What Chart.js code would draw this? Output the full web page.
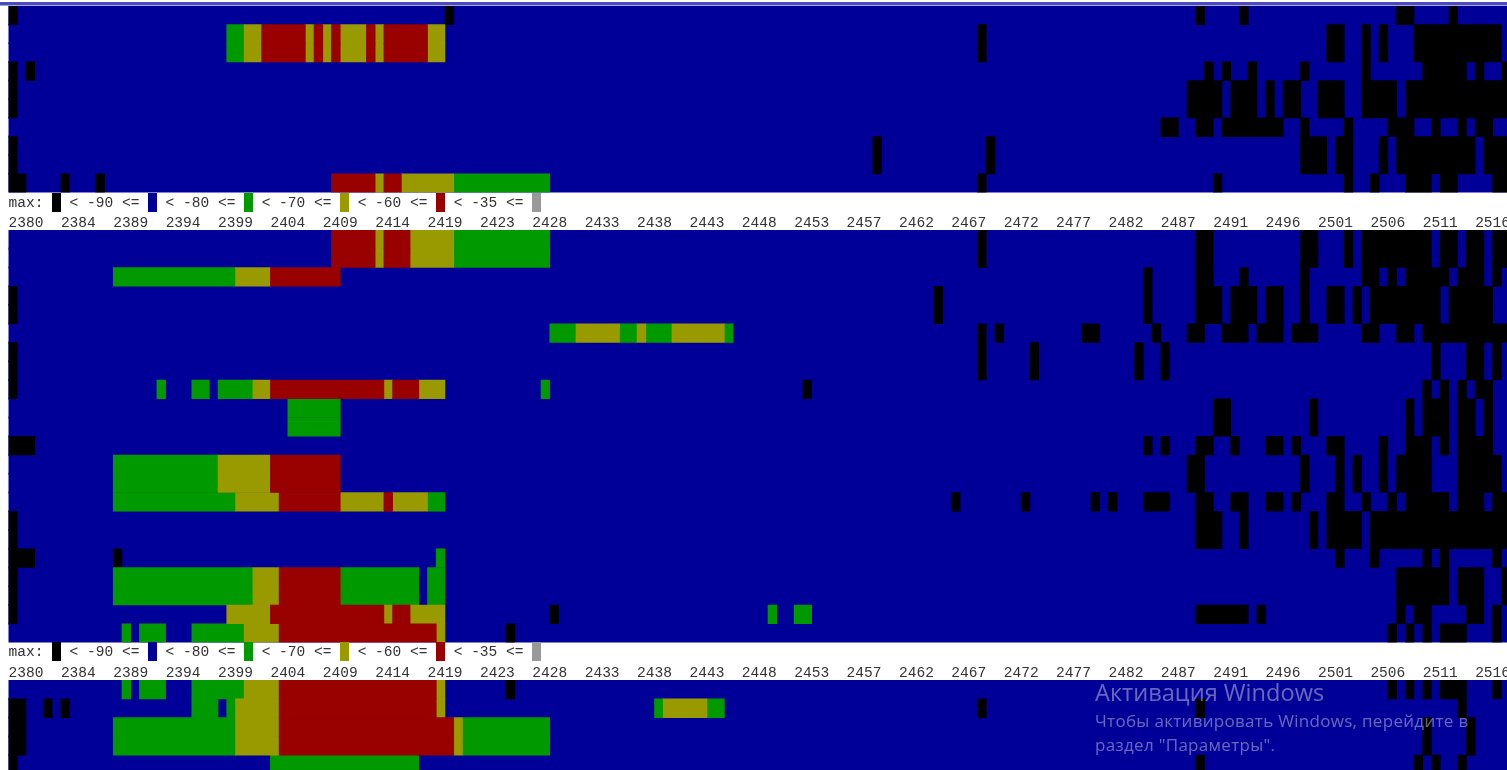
<!DOCTYPE html>
<html>
<head>
<meta charset="utf-8">
<title>Spectrum</title>
<script src="https://cdn.jsdelivr.net/npm/chart.js@4"></script>
<style>
  html, body { margin: 0; padding: 0; background: #fff; overflow: hidden; width: 1507px; height: 770px; }
  canvas { position: absolute; left: 0; }
  .strip { position: absolute; left: 0; width: 1507px; }
  .legend { position: absolute; left: 8.5px; height: 19px; line-height: 21px; white-space: pre;
            font-family: "Liberation Mono", monospace; font-size: 14.55px; color: #333; }
  .legend span { display: inline-block; width: 8.73px; height: 19px; vertical-align: top; }
  .mark { position: absolute; left: 1095px; color: rgba(205, 205, 225, .5); font-family: "Open Sans", sans-serif; white-space: pre; }
</style>
</head>
<body>
<div class="strip" style="top:2px;height:3px;background:#4a4ac4"></div>
<div class="strip" style="top:5px;height:1px;background:#a6a6d8"></div>
<canvas id="top" width="1507" height="230" style="top:0"></canvas>
<div class="legend" id="legendTop" style="top:193px"></div>
<canvas id="mid" width="1507" height="450" style="top:230px"></canvas>
<div class="legend" id="legendMid" style="top:642px"></div>
<canvas id="low" width="1507" height="94" style="top:680px"></canvas>
<div class="mark" style="top:676px;font-size:23.6px">Активация Windows</div>
<div class="mark" style="top:709px;font-size:17px;letter-spacing:.3px">Чтобы активировать Windows, перейдите в</div>
<div class="mark" style="top:733px;font-size:17px;letter-spacing:.3px">раздел "Параметры".</div>

<script>
// frequency labels, one every 6 cells
const tickLabels = [2380, 2384, 2389, 2394, 2399, 2404, 2409, 2414, 2419, 2423, 2428, 2433, 2438, 2443, 2448,
  2453, 2457, 2462, 2467, 2472, 2477, 2482, 2487, 2491, 2496, 2501, 2506, 2511, 2516];
const thresholds = [-90, -80, -70, -60, -35];
const levelColors = ["#000000", "#000099", "#009900", "#999900", "#990000", "#999999"];

// each list is indexed by row, each row holds [fromCell, toCell] runs
const topBlack = [
  [[0,1],[50,51],[136,137],[141,142],[159,161],[165,166]],
  [[111,112],[151,153],[155,156],[157,158],[161,171]],
  [[111,112],[151,153],[155,156],[157,158],[161,171]],
  [[0,1],[2,3],[137,138],[139,140],[142,143],[148,149],[155,156],[162,167],[168,169],[171,172]],
  [[0,1],[135,139],[140,143],[144,145],[146,148],[150,153],[155,159],[160,172]],
  [[0,1],[135,139],[140,143],[144,145],[146,148],[150,153],[155,159],[160,172]],
  [[132,134],[136,138],[139,146],[148,149],[153,154],[158,161],[163,164],[166,167],[168,170]],
  [[0,1],[99,100],[112,113],[148,151],[152,154],[157,158],[159,168],[169,172]],
  [[0,1],[99,100],[112,113],[148,151],[152,154],[157,158],[159,168],[169,172]],
  [[0,2],[6,7],[10,11],[111,112],[138,139],[153,154],[156,157],[160,163],[164,166],[170,172]]
];
const topGreen = [[], [[25,27]], [[25,27]], [], [], [], [], [], [], [[51,62]]];
const topYellow = [
  [],
  [[27,29],[34,35],[36,37],[38,41],[42,43],[48,50]],
  [[27,29],[34,35],[36,37],[38,41],[42,43],[48,50]],
  [], [], [], [], [], [],
  [[42,43],[45,51]]
];
const topRed = [
  [],
  [[29,34],[35,36],[37,38],[41,42],[43,48]],
  [[29,34],[35,36],[37,38],[41,42],[43,48]],
  [], [], [], [], [], [],
  [[37,42],[43,45]]
];

const midBlack = [
  [[111,112],[136,138],[148,150],[153,154],[155,163],[164,166],[167,169],[170,172]],
  [[111,112],[136,138],[148,150],[153,154],[155,163],[164,166],[167,169],[170,172]],
  [[130,131],[136,138],[141,142],[148,149],[155,157],[158,159],[160,165],[166,169],[170,171]],
  [[0,1],[106,107],[130,131],[136,139],[140,143],[144,146],[148,149],[151,153],[154,155],[156,164],[165,170]],
  [[0,1],[106,107],[130,131],[136,139],[140,143],[144,146],[148,149],[151,153],[154,155],[156,164],[165,170]],
  [[111,112],[113,114],[123,125],[131,132],[135,137],[139,142],[143,146],[147,150],[155,157],[159,161],[162,172]],
  [[0,1],[111,112],[117,118],[129,130],[132,133],[163,164],[167,169],[170,171]],
  [[0,1],[111,112],[117,118],[129,130],[132,133],[163,164],[167,169],[170,171]],
  [[0,1],[91,92],[162,163],[164,165],[166,167],[168,170]],
  [[138,140],[149,150],[160,161],[162,165],[166,168],[169,170]],
  [[138,140],[149,150],[160,161],[162,165],[166,168],[169,170]],
  [[0,3],[130,131],[132,133],[136,138],[140,141],[144,146],[147,148],[151,153],[157,158],[160,163],[164,165],[166,170]],
  [[135,137],[148,149],[152,153],[154,155],[157,158],[159,163],[166,171]],
  [[135,137],[148,149],[152,153],[154,155],[157,158],[159,163],[166,171]],
  [[108,109],[116,117],[124,125],[126,127],[130,133],[136,138],[140,142],[144,146],[147,148],[151,153],[155,156],[158,159],[160,165],[166,169],[170,172]],
  [[0,1],[136,139],[141,142],[149,150],[151,155],[156,172]],
  [[0,1],[136,139],[141,142],[149,150],[151,155],[156,172]],
  [[0,3],[12,13],[152,153],[156,157],[162,163],[164,165],[170,171]],
  [[0,1],[159,165],[166,169],[171,172]],
  [[0,1],[159,165],[166,169],[171,172]],
  [[0,1],[62,63],[136,142],[143,144],[159,160],[161,163],[167,169],[170,171]],
  [[57,58],[158,159],[160,161],[162,163],[164,167],[170,171]]
];
const midGreen = [
  [[51,62]], [[51,62]], [[12,26]], [], [],
  [[62,65],[70,72],[73,76],[82,83]],
  [], [],
  [[17,18],[21,23],[24,28],[61,62]],
  [[32,38]], [[32,38]], [],
  [[12,24]], [[12,24]],
  [[12,26],[48,50]],
  [], [],
  [[49,50]],
  [[12,28],[38,47],[48,50]], [[12,28],[38,47],[48,50]],
  [[87,88],[90,92]],
  [[13,14],[15,18],[21,27]]
];
const midYellow = [
  [[42,43],[46,51]], [[42,43],[46,51]], [[26,30]], [], [],
  [[65,70],[72,73],[76,82]],
  [], [],
  [[28,30],[43,44],[47,50]],
  [], [], [],
  [[24,30]], [[24,30]],
  [[26,31],[38,43],[44,48]],
  [], [], [],
  [[28,31]], [[28,31]],
  [[25,30],[43,44],[46,50]],
  [[27,31],[49,50]]
];
const midRed = [
  [[37,42],[43,46]], [[37,42],[43,46]], [[30,38]], [], [], [], [], [],
  [[30,43],[44,47]],
  [], [], [],
  [[30,38]], [[30,38]],
  [[31,38],[43,44]],
  [], [], [],
  [[31,38]], [[31,38]],
  [[30,43],[44,46]],
  [[31,49]]
];

const lowBlack = [
  [[57,58],[158,159],[160,161],[162,163],[164,167],[170,171]],
  [[0,2],[4,5],[6,7],[111,112],[136,137],[166,167]],
  [[0,2],[162,163],[167,168]],
  [[0,2],[162,163],[167,168]],
  [[0,1],[136,137],[161,162],[163,164],[166,167]]
];
const lowGreen = [
  [[13,14],[15,18],[21,27]],
  [[21,24],[25,26],[74,75],[80,82]],
  [[12,26],[52,62]],
  [[12,26],[52,62]],
  [[30,47]]
];
const lowYellow = [
  [[27,31],[49,50]],
  [[26,31],[49,50],[75,80]],
  [[26,31],[51,52]],
  [[26,31],[51,52]],
  []
];
const lowRed = [
  [[31,49]],
  [[31,49]],
  [[31,51]],
  [[31,51]],
  []
];

const cellWidth = 8.73;
const plotLeft = 8.5;
const cellCount = (1507 - plotLeft) / cellWidth;

function buildDataset(rows, color, rowNames, inflate) {
  let data = [];
  rows.forEach((runs, row) => {
    runs.forEach(run => {
      data.push({ x: [run[0], run[1]], y: rowNames[row] });
    });
  });
  return {
    data: data,
    backgroundColor: color,
    borderWidth: 0,
    inflateAmount: inflate,
    grouped: false,
    barPercentage: 1,
    categoryPercentage: 1
  };
}

function drawPanel(id, blocks, withTicks, topPad) {
  let rowNames = blocks[0].map((r, i) => "r" + i);
  let background = rowNames.map(() => [[0, cellCount]]);
  // the first dataset is painted last, so order runs from the top layer down
  let datasets = [
    buildDataset(blocks[3], levelColors[4], rowNames, 0.33),
    buildDataset(blocks[2], levelColors[3], rowNames, 0.33),
    buildDataset(blocks[1], levelColors[2], rowNames, 0.33),
    buildDataset(blocks[0], levelColors[0], rowNames, 0.33),
    buildDataset(background, levelColors[1], rowNames, 1)
  ];

  new Chart(document.getElementById(id), {
    type: "bar",
    data: { labels: rowNames, datasets: datasets },
    options: {
      indexAxis: "y",
      responsive: false,
      animation: false,
      devicePixelRatio: 1,
      layout: { padding: { left: plotLeft, right: 0, top: topPad, bottom: 0 } },
      plugins: { legend: { display: false }, tooltip: { enabled: false } },
      scales: {
        x: {
          type: "linear",
          min: 0,
          max: cellCount,
          display: withTicks,
          grid: { display: false, drawTicks: false },
          border: { display: false },
          afterBuildTicks: scale => {
            scale.ticks = tickLabels.map((label, i) => ({ value: i * 6 }));
          },
          afterFit: scale => {
            scale.height = withTicks ? 37.5 : 0;
            scale.paddingLeft = 0;
            scale.paddingRight = 0;
          },
          ticks: {
            autoSkip: false,
            maxRotation: 0,
            align: "start",
            padding: 22,
            color: "#333",
            font: { family: "Liberation Mono", size: 14.55 },
            callback: (value, index) => tickLabels[index]
          }
        },
        y: {
          type: "category",
          display: false,
          grid: { display: false }
        }
      }
    }
  });
}

function drawLegend(id) {
  let box = document.getElementById(id);
  let html = "max: <span style=\"background:" + levelColors[0] + "\"></span>";
  thresholds.forEach((value, i) => {
    html += " < " + value + " <= <span style=\"background:" + levelColors[i + 1] + "\"></span>";
  });
  box.innerHTML = html;
}

drawPanel("top", [topBlack, topGreen, topYellow, topRed], true, 6);
drawPanel("mid", [midBlack, midGreen, midYellow, midRed], true, 0);
drawPanel("low", [lowBlack, lowGreen, lowYellow, lowRed], false, 0);
drawLegend("legendTop");
drawLegend("legendMid");
</script>
</body>
</html>
